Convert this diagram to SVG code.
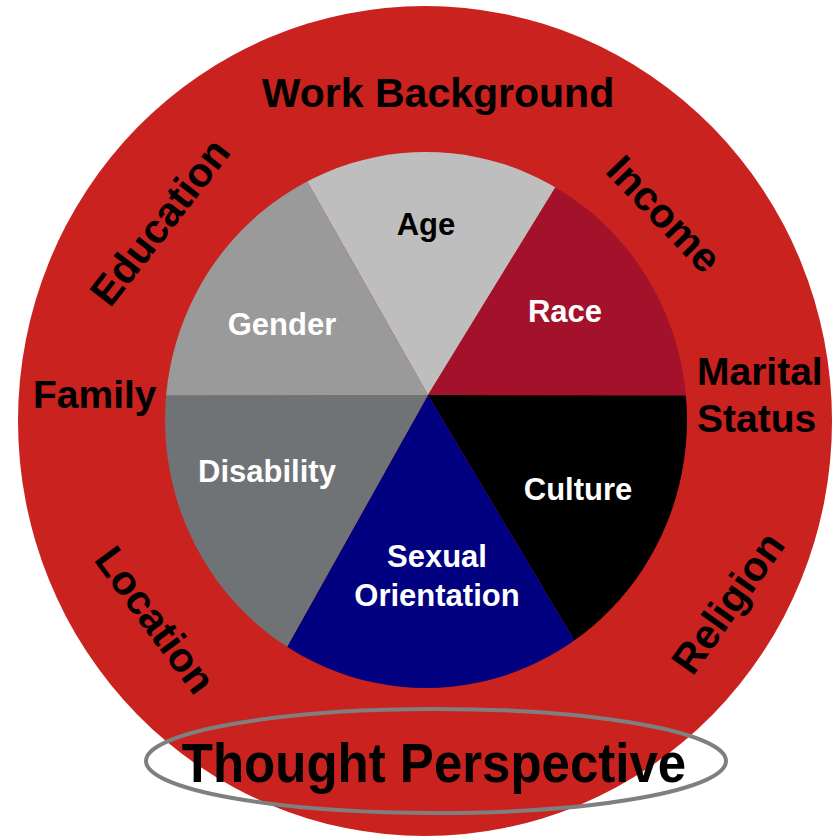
<svg xmlns="http://www.w3.org/2000/svg" width="838" height="837" viewBox="0 0 838 837">
  <style>
    text { font-family: "Liberation Sans", Arial, sans-serif; font-weight: bold; }
    .outer { font-size: 41px; fill: #000; }
    .side { font-size: 39px; fill: #000; }
    .inner { font-size: 31px; fill: #fff; text-anchor: middle; }
    .mid { text-anchor: middle; }
  </style>
  <defs>
    <clipPath id="pieClip">
      <ellipse cx="426" cy="420" rx="261" ry="268"/>
    </clipPath>
  </defs>
  <rect width="838" height="837" fill="#ffffff"/>
  <g id="outer-ring">
    <ellipse cx="425" cy="421" rx="407" ry="415" fill="#c9221f"/>
  </g>
  <g id="pie" clip-path="url(#pieClip)">
    <g id="slice-age"><polygon points="428,395 188,-29 682,-19" fill="#bebebe"/></g>
    <g id="slice-race"><polygon points="428,395 682,-19 720,-19 720,395.5" fill="#a3122a"/></g>
    <g id="slice-culture"><polygon points="428,395 720,395.5 720,881 718,881" fill="#000000"/></g>
    <g id="slice-sexual"><polygon points="428,395 718,881 146,899" fill="#000080"/></g>
    <g id="slice-disability"><polygon points="428,395 146,899 130,899 130,395.5" fill="#707376"/></g>
    <g id="slice-gender"><polygon points="428,395 130,395.5 130,-29 188,-29" fill="#9a9a9a"/></g>
  </g>
  <g id="inner-labels">
    <g id="label-age"><text class="inner" x="426" y="235" style="fill:#000">Age</text></g>
    <g id="label-gender"><text class="inner" x="282" y="335">Gender</text></g>
    <g id="label-race"><text class="inner" x="565" y="322">Race</text></g>
    <g id="label-disability"><text class="inner" x="267" y="482">Disability</text></g>
    <g id="label-culture"><text class="inner" x="578" y="500">Culture</text></g>
    <g id="label-sexual"><text class="inner" x="437" y="567">Sexual</text><text class="inner" x="437" y="606">Orientation</text></g>
  </g>
  <g id="outer-labels">
    <g id="label-work"><text class="outer mid" x="438" y="107">Work Background</text></g>
    <g id="label-education"><text class="outer mid" transform="translate(160,222) rotate(-52)" x="0" y="14">Education</text></g>
    <g id="label-income"><text class="outer mid" transform="translate(664,214) rotate(46)" x="0" y="14">Income</text></g>
    <g id="label-family"><text class="side" x="33" y="408">Family</text></g>
    <g id="label-marital"><text class="side" x="697" y="385">Marital</text><text class="side" x="697" y="432">Status</text></g>
    <g id="label-location"><text class="outer mid" transform="translate(155,620) rotate(53.5)" x="0" y="14">Location</text></g>
    <g id="label-religion"><text class="outer mid" transform="translate(728,603) rotate(-54.6)" x="0" y="14">Religion</text></g>
  </g>
  <g id="thought-perspective">
    <ellipse cx="436" cy="761" rx="290" ry="52" fill="none" stroke="#7f7f7f" stroke-width="4"/>
    <text class="mid" transform="translate(434,782) scale(1,1.1)" x="0" y="0" style="font-size:51px;fill:#000">Thought Perspective</text>
  </g>
</svg>
